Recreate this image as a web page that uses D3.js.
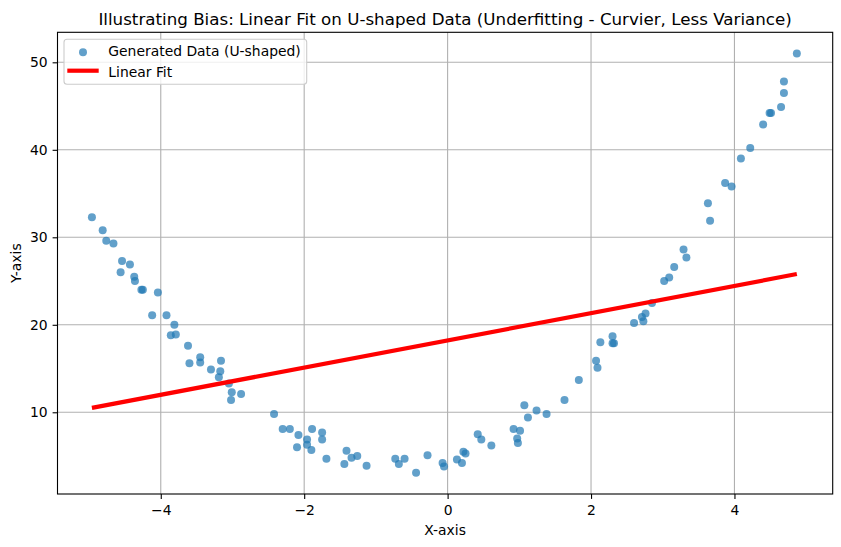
<!DOCTYPE html>
<html>
<head>
<meta charset="utf-8">
<script src="https://cdn.jsdelivr.net/npm/d3@7"></script>
<style>
  body { margin: 0; background: #fff; }
  svg { display: block; font-family: "DejaVu Sans", sans-serif; }
</style>
</head>
<body>
<svg id="chart" width="841" height="547"></svg>
<script>
// scatter points
const xVals = [
  -4.96, -4.81, -4.76, -4.66, -4.54, -4.43, -4.56, -4.37, -4.36, -4.27, -4.25, -4.04,
  -4.12, -3.92, -3.81, -3.86, -3.79, -3.62, -3.60, -3.45, -3.45, -3.30, -3.16, -3.17,
  -3.19, -3.05, -3.01, -3.02, -2.88,
  -2.42, -2.30, -2.20, -2.08, -2.10, -1.96, -1.96, -1.90, -1.89, -1.75, -1.75, -1.69,
  -1.41, -1.44, -1.34, -1.26, -1.13, -0.73, -0.68, -0.60, -0.44, -0.28, -0.07, -0.05,
  0.13, 0.20, 0.22, 0.25, 0.42, 0.47, 0.61,
  0.92, 1.01, 0.97, 0.98, 1.12, 1.07, 1.24, 1.38, 1.63, 1.83, 2.09, 2.07, 2.13, 2.30,
  2.30, 2.32,
  2.60, 2.73, 2.71, 2.76, 2.85, 3.02, 3.09, 3.16, 3.29, 3.33, 3.63, 3.66, 3.87,
  3.96, 4.09, 4.22, 4.40, 4.49, 4.51, 4.65, 4.69, 4.69, 4.87
];
const yVals = [
  32.3, 30.8, 29.6, 29.3, 27.3, 26.9, 26.0, 25.5, 25.0, 24.0, 24.0, 23.7,
  21.1, 21.1, 20.0, 18.8, 18.9, 17.6, 15.6, 16.3, 15.7, 14.9, 15.9, 14.7,
  14.0, 13.3, 12.3, 11.4, 12.1,
  9.8, 8.1, 8.1, 7.4, 6.0, 6.9, 6.3, 5.7, 8.1, 7.7, 6.9, 4.7,
  5.6, 4.1, 4.8, 5.0, 3.9, 4.7, 4.1, 4.7, 3.1, 5.1, 4.2, 3.8,
  4.6, 4.2, 5.5, 5.3, 7.5, 6.9, 6.2,
  8.1, 7.9, 7.0, 6.5, 9.4, 10.8, 10.2, 9.8, 11.4, 13.7, 15.1, 15.9, 18.0, 18.7,
  17.9, 17.9,
  20.2, 20.4, 20.9, 21.3, 22.5, 25.0, 25.4, 26.6, 28.6, 27.7, 33.9, 31.9, 36.2,
  35.8, 39.0, 40.2, 42.9, 44.2, 44.2, 44.9, 46.5, 47.8, 51.0
];

// linear fit end points
const fitX = [-4.96, 4.87];
const fitY = [10.5, 25.8];

const xTicks = [-4, -2, 0, 2, 4];
const yTicks = [10, 20, 30, 40, 50];

const titleText = "Illustrating Bias: Linear Fit on U-shaped Data (Underfitting - Curvier, Less Variance)";

const points = xVals.map((x, i) => ({x: x, y: yVals[i]}));
const fitLine = fitX.map((x, i) => ({x: x, y: fitY[i]}));

const svg = d3.select("#chart");
const pl = 57.5, pr = 832.7, pt = 32.3, pb = 494;
const fs = 13.9;

const x = d3.scaleLinear().domain([-5.44, 5.37]).range([pl, pr]);
const y = d3.scaleLinear().domain([0.66, 53.43]).range([pb, pt]);

const fmt = d => d < 0 ? "\u2212" + Math.abs(d) : String(d);

// grid
const grid = svg.append("g").attr("stroke", "#b0b0b0").attr("stroke-width", 1.1);
grid.selectAll(".gx")
  .data(xTicks)
  .join("line")
    .attr("x1", d => x(d)).attr("x2", d => x(d))
    .attr("y1", pt).attr("y2", pb);
grid.selectAll(".gy")
  .data(yTicks)
  .join("line")
    .attr("x1", pl).attr("x2", pr)
    .attr("y1", d => y(d)).attr("y2", d => y(d));

// scatter
svg.append("g")
  .selectAll("circle")
  .data(points)
  .join("circle")
    .attr("cx", d => x(d.x))
    .attr("cy", d => y(d.y))
    .attr("r", 4)
    .attr("fill", "#1f77b4")
    .attr("fill-opacity", 0.7);

// fit line
svg.append("path")
  .datum(fitLine)
  .attr("fill", "none")
  .attr("stroke", "red")
  .attr("stroke-width", 4.2)
  .attr("d", d3.line().x(d => x(d.x)).y(d => y(d.y)));

// axes
const xAxis = svg.append("g")
  .attr("transform", `translate(0,${pb})`)
  .call(d3.axisBottom(x).tickValues(xTicks).tickFormat(fmt).tickSize(4.9).tickPadding(6));
const yAxis = svg.append("g")
  .attr("transform", `translate(${pl},0)`)
  .call(d3.axisLeft(y).tickValues(yTicks).tickFormat(fmt).tickSize(4.9).tickPadding(4.9));
[xAxis, yAxis].forEach(a => {
  a.select(".domain").remove();
  a.selectAll("text").attr("font-size", fs).attr("fill", "#000").attr("font-family", "DejaVu Sans");
  a.selectAll("line").attr("stroke", "#000").attr("stroke-width", 1.1);
});

// frame
svg.append("rect")
  .attr("x", pl).attr("y", pt)
  .attr("width", pr - pl).attr("height", pb - pt)
  .attr("fill", "none").attr("stroke", "#000").attr("stroke-width", 1.1);

// labels
svg.append("text")
  .attr("x", (pl + pr) / 2).attr("y", 25)
  .attr("text-anchor", "middle").attr("font-size", 16.7)
  .text(titleText);
svg.append("text")
  .attr("x", (pl + pr) / 2).attr("y", 535)
  .attr("text-anchor", "middle").attr("font-size", fs)
  .text("X-axis");
svg.append("text")
  .attr("transform", `translate(20.5,${(pt + pb) / 2}) rotate(-90)`)
  .attr("text-anchor", "middle").attr("font-size", fs)
  .text("Y-axis");

// legend
const legend = svg.append("g");
legend.append("rect")
  .attr("x", 64).attr("y", 39.3).attr("width", 242.7).attr("height", 45)
  .attr("rx", 3)
  .attr("fill", "#fff").attr("fill-opacity", 0.8)
  .attr("stroke", "#cccccc").attr("stroke-width", 1.1);
legend.append("circle")
  .attr("cx", 83).attr("cy", 52.3).attr("r", 4)
  .attr("fill", "#1f77b4").attr("fill-opacity", 0.7);
legend.append("line")
  .attr("x1", 67.3).attr("x2", 98.7).attr("y1", 70.7).attr("y2", 70.7)
  .attr("stroke", "red").attr("stroke-width", 4.2);
legend.append("text")
  .attr("x", 108.3).attr("y", 56.3).attr("font-size", fs)
  .text("Generated Data (U-shaped)");
legend.append("text")
  .attr("x", 108.3).attr("y", 76.5).attr("font-size", fs)
  .text("Linear Fit");
</script>
</body>
</html>
